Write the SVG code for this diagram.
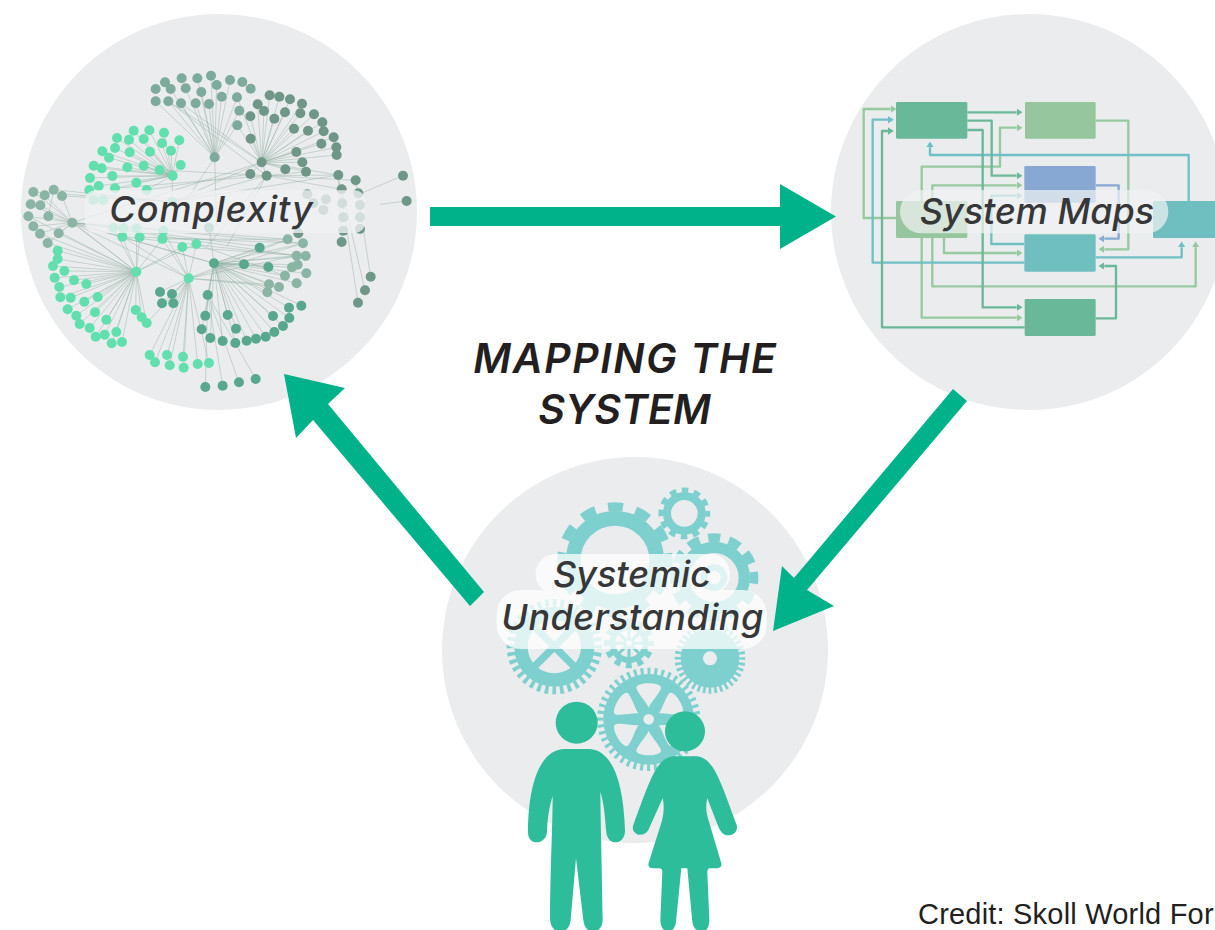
<svg xmlns="http://www.w3.org/2000/svg" width="1215" height="930" viewBox="0 0 1215 930">
<style>
.bg{fill:#ebecee}
.lab{font-family:"Inter","Lato",sans-serif;font-style:italic;font-weight:500;fill:#363739;text-anchor:middle;font-size:36px}
.title{font-family:"Inter","Open Sans",sans-serif;font-style:italic;font-weight:600;font-size:41px;fill:#231f20;text-anchor:middle}
.e{fill:none;stroke:#8fae9f;stroke-width:2;opacity:.65}
.lg{fill:none;stroke:#96c99f;stroke-width:7;stroke-linejoin:round}
.tl{fill:none;stroke:#6fc0c6;stroke-width:7;stroke-linejoin:round}
.dg{fill:none;stroke:#69b89a;stroke-width:7;stroke-linejoin:round}
.bl{fill:none;stroke:#86a8d2;stroke-width:7;stroke-linejoin:round}
.g{fill:none;stroke:#7dd0ce}
.gf{fill:#7dd0ce}
.p{fill:#2ebd9b}
</style>
<defs>
<marker id="mlg" markerWidth="4" markerHeight="4" refX="0" refY="2" orient="auto"><path d="M0 .4L2.5 2L0 3.6Z" fill="#96c99f"/></marker>
<marker id="mtl" markerWidth="4" markerHeight="4" refX="0" refY="2" orient="auto"><path d="M0 .4L2.5 2L0 3.6Z" fill="#6fc0c6"/></marker>
<marker id="mdg" markerWidth="4" markerHeight="4" refX="0" refY="2" orient="auto"><path d="M0 .4L2.5 2L0 3.6Z" fill="#69b89a"/></marker>
<marker id="mbl" markerWidth="4" markerHeight="4" refX="0" refY="2" orient="auto"><path d="M0 .4L2.5 2L0 3.6Z" fill="#86a8d2"/></marker>
<path id="win" fill="#ebecee" d="M0 -35C-6 -50 -33 -78 -37 -93C-40 -113 40 -113 37 -93C33 -78 6 -50 0 -35Z"/>
</defs>
<rect width="1215" height="930" fill="#fff"/>

<g id="node-complexity">
<circle class="bg" cx="219" cy="212" r="198"/>
<g transform="translate(20,60) scale(.33333)">
<path class="e" d="M584 292L407 124M584 292L445 124M584 292L483 130M584 292L527 130M584 292L567 132M584 292L605 110M584 292L544 96M584 292L497 85M584 292L532 55M584 292L573 47M584 292L630 60M584 292L651 112M584 292L658 152M584 292L590 75M584 292L652 196M584 292L452 87M445 124L740 347M483 130L725 307M652 196L725 307M584 292L500 420M584 292L590 500"/>
<path class="e" d="M725 307L749 106M725 307L778 110M725 307L810 118M725 307L846 131M725 307L713 133M725 307L732 153M725 307L795 157M725 307L763 176M725 307L691 169M725 307L841 160M725 307L882 163M725 307L907 187M725 307L822 206M725 307L864 212M725 307L911 214M725 307L692 236M725 307L941 232M725 307L904 251M725 307L949 262M725 307L829 276M725 307L950 285M725 307L847 307M725 307L858 335M725 307L796 328M725 307L691 342M725 307L740 347M725 307L955 345M725 307L652 112M725 307L445 124M725 307L157 488M740 347L1007 361M740 347L965 388M740 347L955 345M740 347L858 335M955 345L965 546M1007 361L1052 650M965 388L1035 691M955 345L1014 728M1149 347L1030 397M1160 423L1080 433M740 347L620 560M740 347L560 560M691 342L380 390M740 347L285 385M740 347L419 330"/>
<path class="e" d="M457 347L341 212M457 347L388 211M457 347L432 218M457 347L291 234M457 347L327 239M457 347L371 237M457 347L478 241M457 347L426 250M457 347L247 274M457 347L285 264M457 347L329 277M457 347L390 275M457 347L453 272M457 347L267 293M457 347L221 317M457 347L245 325M457 347L322 322M457 347L371 317M457 347L419 330M457 347L482 315M457 347L210 354M457 347L277 348M457 347L349 368M457 347L236 378M457 347L285 385M457 347L380 390M457 425L457 347M457 425L740 347M457 425L725 307M457 425L955 345M457 425L126 408M457 425L40 396M457 425L101 389"/>
<path class="e" d="M349 635L113 572M349 635L113 597M349 635L99 618M349 635L133 633M349 635L104 653M349 635L162 661M349 635L118 681M349 635L199 672M349 635L121 712M349 635L152 713M349 635L193 725M349 635L233 711M349 635L143 748M349 635L225 757M349 635L169 767M349 635L259 779M349 635L179 792M349 635L209 804M349 635L227 830M349 635L254 824M349 635L289 816M349 635L275 850M349 635L306 846M349 635L347 750M349 635L365 772M349 635L380 789M349 635L307 530M349 635L359 531M349 635L427 537M349 635L487 561M349 635L529 552M349 635L280 503M349 635L350 505M349 635L157 488M349 635L116 520M349 635L83 549M349 635L60 521M359 531L849 550M427 537L803 538M307 530L830 587M487 561L857 588M529 552L795 647"/>
<path class="e" d="M506 655L389 885M506 655L405 907M506 655L441 885M506 655L449 916M506 655L489 890M506 655L491 923M506 655L533 912M506 655L567 909M506 655L420 696M506 655L456 702M506 655L426 730M506 655L460 730M506 655L380 789M506 655L307 530M506 655L427 537M506 655L487 561M506 655L529 552M506 655L430 512M506 655L157 488M506 655L830 587M506 655L803 538M506 655L849 550M506 655L747 673M506 655L777 681"/>
<path class="e" d="M582 610L719 563M582 610L672 613M582 610L745 621M582 610L563 705M582 610L556 767M582 610L623 765M582 610L648 806M582 610L545 808M582 610L571 834M582 610L608 843M582 610L646 849M582 610L680 842M582 610L708 836M582 610L737 830M582 610L763 816M582 610L789 798M582 610L808 774M582 610L807 743M582 610L844 737M582 610L759 768M582 610L803 538M582 610L849 550M582 610L830 587M582 610L857 588M582 610L833 614M582 610L816 622M582 610L795 647M582 610L859 640M582 610L830 670M582 610L747 673M582 610L777 681M582 610L742 697M582 610L157 488M582 610L567 503M563 705L556 981M563 705L608 977M563 705L657 967M563 705L707 957M157 488L803 538M157 488L849 550M157 488L830 587M85 469L582 610M40 396L349 635M25 469L349 635M157 488L720 560M101 389L85 469M126 408L157 488M74 406L157 488M32 433L157 488M61 436L157 488M25 469L157 488M40 499L157 488M60 521L157 488M116 520L157 488M83 549L157 488"/>
<g id="complexity-teal-a" fill="#7dab9b"><circle cx="407" cy="87" r="15"/><circle cx="435" cy="67" r="15"/><circle cx="452" cy="87" r="15"/><circle cx="485" cy="55" r="15"/><circle cx="497" cy="85" r="15"/><circle cx="532" cy="55" r="15"/><circle cx="544" cy="96" r="15"/><circle cx="573" cy="47" r="15"/><circle cx="590" cy="75" r="15"/><circle cx="630" cy="60" r="15"/><circle cx="605" cy="110" r="15"/><circle cx="667" cy="66" r="15"/><circle cx="651" cy="112" r="15"/><circle cx="692" cy="86" r="15"/><circle cx="407" cy="124" r="15"/><circle cx="445" cy="124" r="15"/><circle cx="483" cy="130" r="15"/><circle cx="527" cy="130" r="15"/><circle cx="567" cy="132" r="15"/><circle cx="658" cy="152" r="15"/><circle cx="652" cy="196" r="15"/><circle cx="584" cy="292" r="15"/></g>
<g id="complexity-dark" fill="#6f9788"><circle cx="749" cy="106" r="15"/><circle cx="778" cy="110" r="15"/><circle cx="810" cy="118" r="15"/><circle cx="846" cy="131" r="15"/><circle cx="713" cy="133" r="15"/><circle cx="732" cy="153" r="15"/><circle cx="795" cy="157" r="15"/><circle cx="763" cy="176" r="15"/><circle cx="691" cy="169" r="15"/><circle cx="841" cy="160" r="15"/><circle cx="882" cy="163" r="15"/><circle cx="907" cy="187" r="15"/><circle cx="822" cy="206" r="15"/><circle cx="864" cy="212" r="15"/><circle cx="911" cy="214" r="15"/><circle cx="692" cy="236" r="15"/><circle cx="941" cy="232" r="15"/><circle cx="904" cy="251" r="15"/><circle cx="949" cy="262" r="15"/><circle cx="829" cy="276" r="15"/><circle cx="950" cy="285" r="15"/><circle cx="847" cy="307" r="15"/><circle cx="858" cy="335" r="15"/><circle cx="796" cy="328" r="15"/><circle cx="691" cy="342" r="15"/><circle cx="740" cy="347" r="15"/><circle cx="725" cy="307" r="15"/><circle cx="955" cy="345" r="15"/><circle cx="1007" cy="361" r="15"/><circle cx="1149" cy="347" r="15"/><circle cx="1160" cy="423" r="15"/><circle cx="965" cy="388" r="15"/><circle cx="1015" cy="400" r="15"/><circle cx="1052" cy="650" r="15"/><circle cx="1035" cy="691" r="15"/><circle cx="1014" cy="728" r="15"/><circle cx="965" cy="546" r="15"/><circle cx="970" cy="512" r="15"/><circle cx="967" cy="430" r="15"/><circle cx="1020" cy="435" r="15"/><circle cx="970" cy="472" r="15"/><circle cx="1020" cy="472" r="15"/><circle cx="1020" cy="507" r="15"/><circle cx="862" cy="403" r="15"/><circle cx="918" cy="418" r="15"/><circle cx="880" cy="430" r="15"/><circle cx="910" cy="450" r="15"/><circle cx="835" cy="520" r="15"/></g>
<g id="complexity-bright" fill="#62dfae"><circle cx="341" cy="212" r="15"/><circle cx="388" cy="211" r="15"/><circle cx="432" cy="218" r="15"/><circle cx="291" cy="234" r="15"/><circle cx="327" cy="239" r="15"/><circle cx="371" cy="237" r="15"/><circle cx="478" cy="241" r="15"/><circle cx="426" cy="250" r="15"/><circle cx="247" cy="274" r="15"/><circle cx="285" cy="264" r="15"/><circle cx="329" cy="277" r="15"/><circle cx="390" cy="275" r="15"/><circle cx="453" cy="272" r="15"/><circle cx="267" cy="293" r="15"/><circle cx="221" cy="317" r="15"/><circle cx="245" cy="325" r="15"/><circle cx="322" cy="322" r="15"/><circle cx="371" cy="317" r="15"/><circle cx="419" cy="330" r="15"/><circle cx="482" cy="315" r="15"/><circle cx="210" cy="354" r="15"/><circle cx="277" cy="348" r="15"/><circle cx="458" cy="347" r="15"/><circle cx="349" cy="368" r="15"/><circle cx="236" cy="378" r="15"/><circle cx="208" cy="390" r="15"/><circle cx="285" cy="385" r="15"/><circle cx="380" cy="390" r="15"/><circle cx="220" cy="420" r="15"/><circle cx="250" cy="420" r="15"/><circle cx="457" cy="425" r="15"/><circle cx="280" cy="503" r="15"/><circle cx="310" cy="505" r="15"/><circle cx="350" cy="505" r="15"/><circle cx="430" cy="512" r="15"/><circle cx="307" cy="530" r="15"/><circle cx="359" cy="531" r="15"/><circle cx="427" cy="537" r="15"/><circle cx="487" cy="561" r="15"/><circle cx="529" cy="552" r="15"/><circle cx="349" cy="635" r="15"/><circle cx="506" cy="655" r="15"/><circle cx="113" cy="572" r="15"/><circle cx="113" cy="597" r="15"/><circle cx="99" cy="618" r="15"/><circle cx="133" cy="633" r="15"/><circle cx="104" cy="653" r="15"/><circle cx="162" cy="661" r="15"/><circle cx="118" cy="681" r="15"/><circle cx="199" cy="672" r="15"/><circle cx="121" cy="712" r="15"/><circle cx="152" cy="713" r="15"/><circle cx="193" cy="725" r="15"/><circle cx="233" cy="711" r="15"/><circle cx="143" cy="748" r="15"/><circle cx="225" cy="757" r="15"/><circle cx="169" cy="767" r="15"/><circle cx="259" cy="779" r="15"/><circle cx="179" cy="792" r="15"/><circle cx="209" cy="804" r="15"/><circle cx="227" cy="830" r="15"/><circle cx="254" cy="824" r="15"/><circle cx="289" cy="816" r="15"/><circle cx="275" cy="850" r="15"/><circle cx="306" cy="846" r="15"/><circle cx="347" cy="750" r="15"/><circle cx="365" cy="772" r="15"/><circle cx="380" cy="789" r="15"/><circle cx="389" cy="885" r="15"/><circle cx="405" cy="907" r="15"/><circle cx="441" cy="885" r="15"/><circle cx="449" cy="916" r="15"/><circle cx="489" cy="890" r="15"/><circle cx="491" cy="923" r="15"/><circle cx="533" cy="912" r="15"/><circle cx="567" cy="909" r="15"/></g>
<g id="complexity-mid" fill="#58a88e"><circle cx="582" cy="610" r="15"/><circle cx="719" cy="563" r="15"/><circle cx="672" cy="613" r="15"/><circle cx="745" cy="621" r="15"/><circle cx="563" cy="705" r="15"/><circle cx="556" cy="767" r="15"/><circle cx="623" cy="765" r="15"/><circle cx="648" cy="806" r="15"/><circle cx="545" cy="808" r="15"/><circle cx="571" cy="834" r="15"/><circle cx="608" cy="843" r="15"/><circle cx="646" cy="849" r="15"/><circle cx="680" cy="842" r="15"/><circle cx="708" cy="836" r="15"/><circle cx="737" cy="830" r="15"/><circle cx="763" cy="816" r="15"/><circle cx="789" cy="798" r="15"/><circle cx="808" cy="774" r="15"/><circle cx="807" cy="743" r="15"/><circle cx="844" cy="737" r="15"/><circle cx="759" cy="768" r="15"/><circle cx="420" cy="696" r="15"/><circle cx="456" cy="702" r="15"/><circle cx="426" cy="730" r="15"/><circle cx="460" cy="730" r="15"/><circle cx="556" cy="981" r="15"/><circle cx="608" cy="977" r="15"/><circle cx="657" cy="967" r="15"/><circle cx="707" cy="957" r="15"/><circle cx="567" cy="503" r="15"/></g>
<g id="complexity-grey" fill="#8ab5a5"><circle cx="40" cy="396" r="15"/><circle cx="74" cy="406" r="15"/><circle cx="101" cy="389" r="15"/><circle cx="126" cy="408" r="15"/><circle cx="32" cy="433" r="15"/><circle cx="61" cy="436" r="15"/><circle cx="25" cy="469" r="15"/><circle cx="85" cy="469" r="15"/><circle cx="40" cy="499" r="15"/><circle cx="60" cy="521" r="15"/><circle cx="116" cy="520" r="15"/><circle cx="83" cy="549" r="15"/><circle cx="157" cy="488" r="15"/><circle cx="803" cy="538" r="15"/><circle cx="849" cy="550" r="15"/><circle cx="830" cy="587" r="15"/><circle cx="857" cy="588" r="15"/><circle cx="833" cy="614" r="15"/><circle cx="816" cy="622" r="15"/><circle cx="795" cy="647" r="15"/><circle cx="859" cy="640" r="15"/><circle cx="830" cy="670" r="15"/><circle cx="747" cy="673" r="15"/><circle cx="777" cy="681" r="15"/><circle cx="742" cy="697" r="15"/></g>
<rect x="195" y="391" width="840" height="128" rx="30" fill="#f0f1f2" opacity=".78"/>
</g>
<text class="lab" x="211.500" y="222" letter-spacing="1">Complexity</text>
</g>

<g id="node-system-maps">
<circle class="bg" cx="1029" cy="212" r="198"/>
<g transform="translate(850,90) scale(.33333)">
<path class="lg" marker-end="url(#mlg)" d="M138 384H41V57H122"/>
<path class="lg" marker-end="url(#mlg)" d="M737 92H835V478H763"/>
<path class="lg" marker-end="url(#mlg)" d="M215 333V230H450V113H500"/>
<path class="lg" marker-end="url(#mlg)" d="M247 333V286H500"/>
<path class="lg" marker-end="url(#mlg)" d="M282 444V489H500"/>
<path class="lg" marker-end="url(#mlg)" d="M247 444V589H1037V472"/>
<path class="lg" marker-end="url(#mlg)" d="M215 444V683H500"/>
<path class="tl" marker-end="url(#mtl)" d="M523 518H68V89H114"/>
<path class="tl" marker-end="url(#mtl)" d="M1016 333V195H240V172"/>
<path class="tl" marker-end="url(#mtl)" d="M523 462H424V317H500"/>
<path class="tl" marker-end="url(#mtl)" d="M737 502H995V472"/>
<path class="dg" marker-end="url(#mdg)" d="M352 67H500"/>
<path class="dg" marker-end="url(#mdg)" d="M352 92H425V257H500"/>
<path class="dg" marker-end="url(#mdg)" d="M352 120H398V652H500"/>
<path class="dg" marker-end="url(#mdg)" d="M524 712H96V123H114"/>
<path class="dg" marker-end="url(#mdg)" d="M737 685H798V528H763"/>
<path class="bl" marker-end="url(#mbl)" d="M737 286H806V446H763"/>
<rect x="138" y="36" width="214" height="110" rx="4" fill="#69b89a"/>
<rect x="525" y="36" width="212" height="110" rx="4" fill="#96c69d"/>
<rect x="523" y="228" width="214" height="110" rx="4" fill="#86a8d2"/>
<rect x="138" y="333" width="214" height="111" rx="4" fill="#96c69d"/>
<rect x="523" y="433" width="214" height="112" rx="4" fill="#6fbfc0"/>
<rect x="909" y="333" width="210" height="111" rx="4" fill="#6fbfc0"/>
<rect x="524" y="627" width="213" height="111" rx="4" fill="#69b89a"/>
<rect x="150" y="300" width="805" height="130" rx="65" fill="#f0f1f2" opacity=".72"/>
</g>
<text class="lab" x="1037" y="224">System Maps</text>
</g>

<g id="node-systemic-understanding">
<circle class="bg" cx="635" cy="650" r="193"/>
<g transform="translate(490,480) scale(.33333)">
<g id="gear-large"><circle class="g" cx="375" cy="240" r="125" stroke-width="44"/><circle class="g" cx="375" cy="240" r="160" stroke-width="26" stroke-dasharray="45 38.8" stroke-dashoffset="22.5"/></g>
<g id="gear-small"><circle class="g" cx="583" cy="100" r="52" stroke-width="24"/><circle class="g" cx="583" cy="100" r="70" stroke-width="15" stroke-dasharray="20 16.65" stroke-dashoffset="10"/></g>
<g id="gear-right"><circle class="g" cx="672" cy="293" r="91" stroke-width="34"/><circle class="g" cx="672" cy="293" r="120" stroke-width="26" stroke-dasharray="36 26.8" stroke-dashoffset="18"/><circle class="g" cx="672" cy="293" r="30" stroke-width="20"/></g>
<g id="gear-left"><circle class="g" cx="193" cy="500" r="100" stroke-width="40"/><circle class="g" cx="193" cy="500" r="131" stroke-width="24" stroke-dasharray="11 11.86" stroke-dashoffset="5.5"/><path class="g" stroke-width="22" d="M130 437L256 563M256 437L130 563"/></g>
<g id="gear-center"><circle class="g" cx="417" cy="490" r="50" stroke-width="18"/><circle class="g" cx="417" cy="490" r="66" stroke-width="18" stroke-dasharray="18 16.5" stroke-dashoffset="9"/><path class="g" stroke-width="9" d="M367 490H467M417 440V540M382 455L452 525M452 455L382 525"/><circle cx="417" cy="490" r="17" class="gf"/><circle cx="417" cy="490" r="9" fill="#ebecee"/></g>
<g id="gear-lower-right"><circle class="gf" cx="660" cy="535" r="88"/><circle cx="660" cy="535" r="21" fill="#ebecee"/><circle class="g" cx="660" cy="535" r="96" stroke-width="20" stroke-dasharray="8 8.75" stroke-dashoffset="4"/></g>
<g id="gear-bottom"><circle class="gf" cx="476" cy="718" r="136"/><circle class="g" cx="476" cy="718" r="145" stroke-width="20" stroke-dasharray="9 11.7" stroke-dashoffset="4.5"/>
<g transform="translate(476,718)"><use href="#win"/><use href="#win" transform="rotate(60)"/><use href="#win" transform="rotate(120)"/><use href="#win" transform="rotate(180)"/><use href="#win" transform="rotate(240)"/><use href="#win" transform="rotate(300)"/></g><circle cx="476" cy="718" r="16" fill="#ebecee"/></g>
<g opacity=".76" fill="#fff"><rect x="137" y="222" width="583" height="120" rx="58"/><rect x="20" y="330" width="810" height="177" rx="72"/></g>
</g>
<text class="lab" x="632" y="587">Systemic</text>
<text class="lab" x="632.500" y="630" letter-spacing=".5">Understanding</text>
<g transform="translate(510,690) scale(.33333)">
<g id="person-man"><circle class="p" cx="200" cy="98" r="63"/><path class="p" d="M165 177H235C300 177 340 260 345 420C346 445 330 457 317 457C300 457 290 445 288 420C285 380 282 340 271 305C272 400 275 500 278 690C278 710 265 725 250 725C232 725 222 710 220 690L198 505L182 690C180 710 170 725 150 725C130 725 120 705 120 685C122 500 128 400 128 318C118 350 113 380 111 425C110 445 95 457 80 457C65 457 53 445 54 425C55 270 95 177 165 177Z"/></g>
<g id="person-woman"><circle class="p" cx="525" cy="124" r="60"/><path class="p" d="M495 199H555C610 199 630 270 680 405C685 425 670 436 655 436C640 436 632 425 625 410L592 325C585 350 590 375 597 395L634 520C636 530 630 535 620 535H600C594 535 592 540 592 548L598 690C598 710 590 725 575 725C555 725 548 705 547 695L532 535H514L498 695C497 710 487 725 475 725C458 725 451 705 451 690L457 545C457 538 453 535 447 535H428C418 535 413 528 416 518L455 395C462 370 463 345 458 325L415 420C408 432 395 436 385 434C372 430 365 418 370 405C420 270 440 199 495 199Z"/></g>
</g>
</g>

<g id="connectors" fill="#00b28a">
<path d="M430 207H780V184L836 216.500L780 249V226H430Z"/>
<path d="M953 389L967 401L807 590L834 606L773 631L782 566L794 578Z"/>
<path d="M484 592L470 606L313 420L296 438L284 374L345 388L328 404Z"/>
</g>

<text class="title" x="625.500" y="373" letter-spacing="1.600">MAPPING THE</text>
<text class="title" x="624.500" y="424">SYSTEM</text>
<text x="918" y="923.500" font-family="Liberation Sans,sans-serif" font-size="29" letter-spacing=".2" fill="#231f20">Credit: Skoll World For</text>
</svg>
